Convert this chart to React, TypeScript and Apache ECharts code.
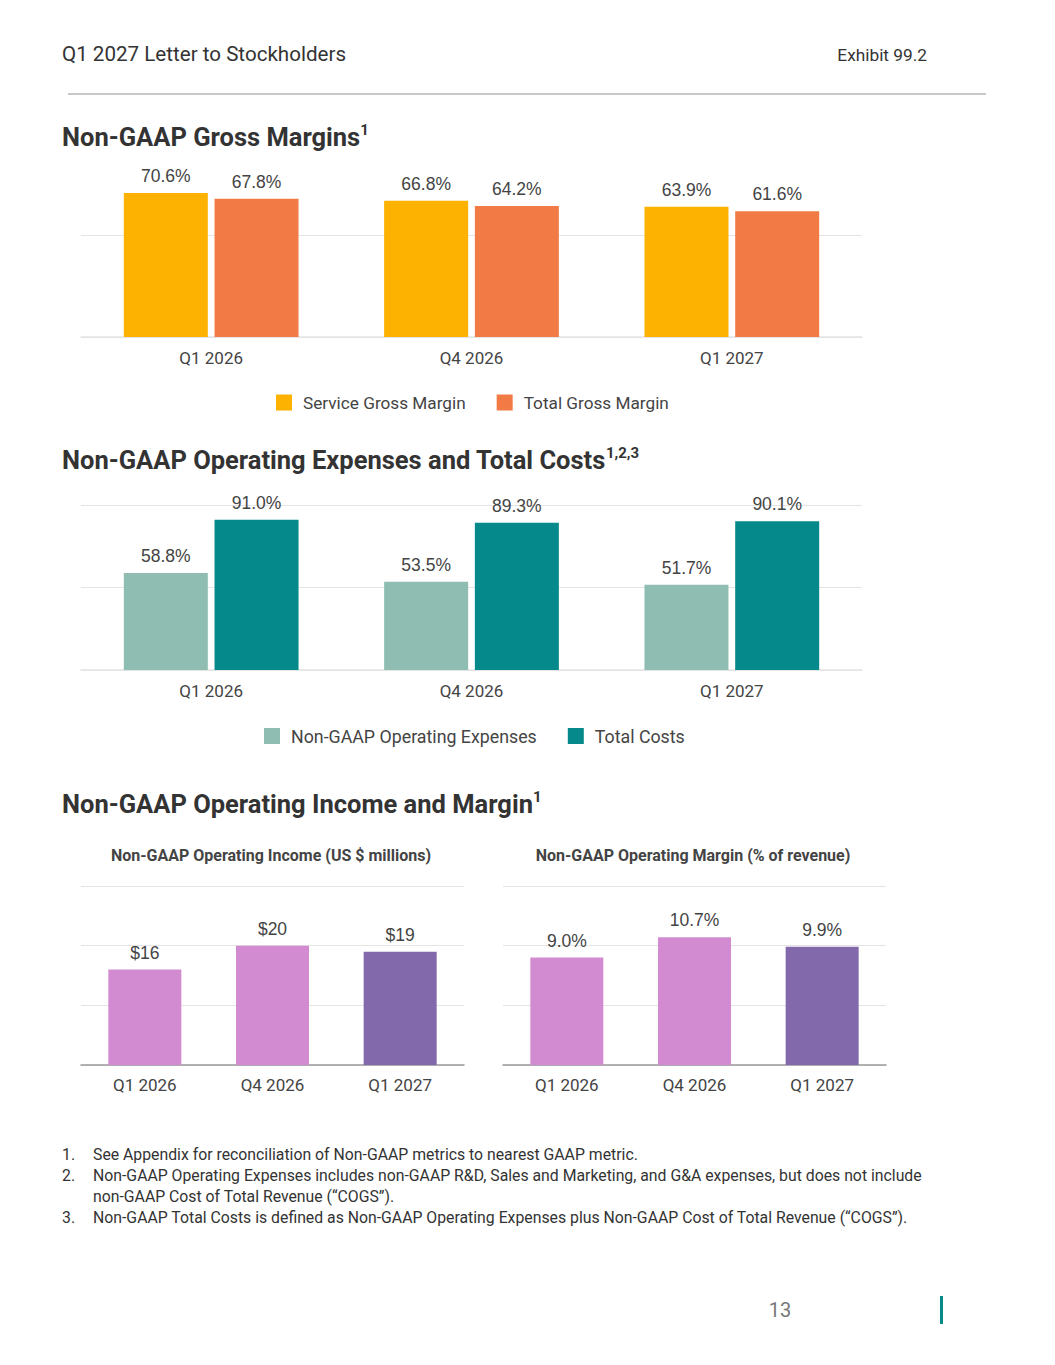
import React, { useEffect, useRef } from "react";
import * as echarts from "echarts";

const categories = ["Q1 2026", "Q4 2026", "Q1 2027"];
const serviceGrossMargin = [70.6, 66.8, 63.9];
const totalGrossMargin = [67.8, 64.2, 61.6];
const nonGaapOpex = [58.8, 53.5, 51.7];
const totalCosts = [91.0, 89.3, 90.1];
const operatingIncome = [16, 20, 19];
const operatingMargin = [9.0, 10.7, 9.9];
const incomeColors = ["#D28BD0", "#D28BD0", "#8269AB"];
const marginColors = ["#D28BD0", "#D28BD0", "#8269AB"];

const footnotes = [
  { num: "1.", lines: ["See Appendix for reconciliation of Non-GAAP metrics to nearest GAAP metric."] },
  {
    num: "2.",
    lines: [
      "Non-GAAP Operating Expenses includes non-GAAP R&D, Sales and Marketing, and G&A expenses, but does not include",
      "non-GAAP Cost of Total Revenue (\u201cCOGS\u201d).",
    ],
  },
  {
    num: "3.",
    lines: [
      "Non-GAAP Total Costs is defined as Non-GAAP Operating Expenses plus Non-GAAP Cost of Total Revenue (\u201cCOGS\u201d).",
    ],
  },
];

const FONT = "Roboto, 'Noto Sans', sans-serif";
const NUMFONT = "'Liberation Sans', Arial, sans-serif";
const TXT = "#444444";
const GRID = "#e4e4e4";

function titleText(x: number, y: number, main: string, sup: string) {
  return {
    type: "text",
    x,
    y,
    style: {
      text: `{t|${main}}{s|${sup}}`,
      verticalAlign: "middle",
      rich: {
        t: { fontFamily: FONT, fontSize: 25.5, fontWeight: "bold", fill: "#333333", lineHeight: 30 },
        s: { fontFamily: FONT, fontSize: 15, fontWeight: "bold", fill: "#333333", lineHeight: 22, verticalAlign: "top" },
      },
    },
  };
}

export default function App() {
  const ref = useRef<HTMLDivElement>(null);
  useEffect(() => {
    if (!ref.current) return;
    const chart = echarts.init(ref.current, undefined, { renderer: "svg" });

    const pctLabel = {
      show: true,
      position: "top",
      distance: 8,
      fontFamily: NUMFONT,
      fontSize: 17.5,
      color: TXT,
      formatter: (p: any) => `${Number(p.value).toFixed(1)}%`,
    };

    const catAxis = (gridIndex: number, axisColor: string, margin: number) => ({
      type: "category",
      gridIndex,
      data: categories,
      axisTick: { show: false },
      axisLine: { lineStyle: { color: axisColor, width: 1.5 } },
      axisLabel: { fontFamily: FONT, fontSize: 17, color: TXT, margin },
    });

    const valAxis = (gridIndex: number, max: number, interval: number, showMax: boolean) => ({
      type: "value",
      gridIndex,
      min: 0,
      max,
      interval,
      axisLabel: { show: false },
      axisLine: { show: false },
      axisTick: { show: false },
      splitLine: { show: true, showMaxLine: showMax, lineStyle: { color: GRID, width: 1 } },
    });

    const legendBase = {
      padding: 0,
      icon: "rect",
      itemWidth: 16,
      itemHeight: 16,
      itemGap: 31,
    };

    const graphic: any[] = [
      {
        type: "text",
        x: 62,
        y: 54,
        style: { text: "Q1 2027 Letter to Stockholders", fontFamily: FONT, fontSize: 20.6, fill: "#333333", verticalAlign: "middle" },
      },
      {
        type: "text",
        x: 927,
        y: 55,
        style: { text: "Exhibit 99.2", fontFamily: FONT, fontSize: 17.3, fill: "#333333", align: "right", verticalAlign: "middle" },
      },
      { type: "line", shape: { x1: 68, y1: 94, x2: 986, y2: 94 }, style: { stroke: "#c8c8c8", lineWidth: 2 } },
      titleText(62, 137, "Non-GAAP Gross Margins", "1"),
      titleText(62, 460, "Non-GAAP Operating Expenses and Total Costs", "1,2,3"),
      titleText(62, 804, "Non-GAAP Operating Income and Margin", "1"),
      {
        type: "text",
        x: 271,
        y: 855,
        style: { text: "Non-GAAP Operating Income (US $ millions)", fontFamily: FONT, fontSize: 16, fontWeight: "bold", fill: TXT, align: "center", verticalAlign: "middle" },
      },
      {
        type: "text",
        x: 693,
        y: 855,
        style: { text: "Non-GAAP Operating Margin (% of revenue)", fontFamily: FONT, fontSize: 16, fontWeight: "bold", fill: TXT, align: "center", verticalAlign: "middle" },
      },
      {
        type: "text",
        x: 780,
        y: 1310,
        style: { text: "13", fontFamily: FONT, fontSize: 20, fill: "#777777", align: "center", verticalAlign: "middle" },
      },
      { type: "rect", shape: { x: 940, y: 1296, width: 3, height: 28 }, style: { fill: "#05898A" } },
    ];

    let fy = 1154;
    footnotes.forEach((f) => {
      graphic.push({
        type: "text",
        x: 62,
        y: fy,
        style: { text: f.num, fontFamily: FONT, fontSize: 15.8, fill: "#333333", verticalAlign: "middle" },
      });
      f.lines.forEach((line) => {
        graphic.push({
          type: "text",
          x: 93,
          y: fy,
          style: { text: line, fontFamily: FONT, fontSize: 15.8, fill: "#333333", verticalAlign: "middle" },
        });
        fy += 21.3;
      });
    });

    chart.setOption({
      animation: false,
      backgroundColor: "#ffffff",
      textStyle: { fontFamily: FONT },
      grid: [
        { left: 81, top: 133, width: 781, height: 204 },
        { left: 81, top: 505, width: 781, height: 165 },
        { left: 81, top: 886, width: 383, height: 179 },
        { left: 503, top: 886, width: 383, height: 179 },
      ],
      xAxis: [
        catAxis(0, GRID, 12),
        catAxis(1, GRID, 12),
        catAxis(2, "#9a9a9a", 11),
        catAxis(3, "#9a9a9a", 11),
      ],
      yAxis: [
        valAxis(0, 100, 50, false),
        valAxis(1, 100, 50, true),
        valAxis(2, 30, 10, true),
        valAxis(3, 15, 5, true),
      ],
      legend: [
        {
          ...legendBase,
          top: 394,
          left: 276,
          textStyle: { fontFamily: FONT, fontSize: 17.2, color: TXT, padding: [0, 0, 0, 6] },
          data: ["Service Gross Margin", "Total Gross Margin"],
        },
        {
          ...legendBase,
          top: 727,
          left: 264,
          textStyle: { fontFamily: FONT, fontSize: 17.8, color: TXT, padding: [0, 0, 0, 6] },
          data: ["Non-GAAP Operating Expenses", "Total Costs"],
        },
      ],
      series: [
        {
          name: "Service Gross Margin",
          type: "bar",
          xAxisIndex: 0,
          yAxisIndex: 0,
          data: serviceGrossMargin,
          barWidth: 84,
          barGap: "8%",
          itemStyle: { color: "#FDB100" },
          label: pctLabel,
        },
        {
          name: "Total Gross Margin",
          type: "bar",
          xAxisIndex: 0,
          yAxisIndex: 0,
          data: totalGrossMargin,
          barWidth: 84,
          barGap: "8%",
          itemStyle: { color: "#F27B45" },
          label: pctLabel,
        },
        {
          name: "Non-GAAP Operating Expenses",
          type: "bar",
          xAxisIndex: 1,
          yAxisIndex: 1,
          data: nonGaapOpex,
          barWidth: 84,
          barGap: "8%",
          itemStyle: { color: "#8FBDB1" },
          label: pctLabel,
        },
        {
          name: "Total Costs",
          type: "bar",
          xAxisIndex: 1,
          yAxisIndex: 1,
          data: totalCosts,
          barWidth: 84,
          barGap: "8%",
          itemStyle: { color: "#05898A" },
          label: pctLabel,
        },
        {
          name: "Non-GAAP Operating Income",
          type: "bar",
          xAxisIndex: 2,
          yAxisIndex: 2,
          barWidth: 73,
          data: operatingIncome.map((v, i) => ({ value: v, itemStyle: { color: incomeColors[i] } })),
          label: { ...pctLabel, formatter: (p: any) => `$${p.value}` },
        },
        {
          name: "Non-GAAP Operating Margin",
          type: "bar",
          xAxisIndex: 3,
          yAxisIndex: 3,
          barWidth: 73,
          data: operatingMargin.map((v, i) => ({ value: v, itemStyle: { color: marginColors[i] } })),
          label: pctLabel,
        },
      ],
      graphic,
    });

    return () => chart.dispose();
  }, []);

  return (
    <div
      ref={ref}
      style={{ position: "absolute", left: 0, top: 0, width: 1055, height: 1365, background: "#fff" }}
    />
  );
}
